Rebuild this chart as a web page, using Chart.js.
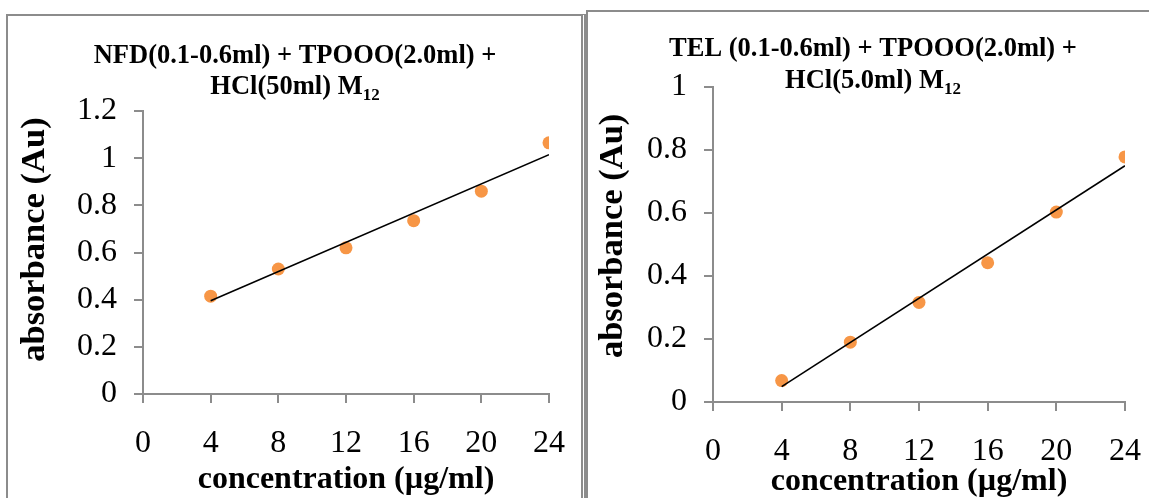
<!DOCTYPE html>
<html><head><meta charset="utf-8">
<script src="https://cdn.jsdelivr.net/npm/chart.js@4.4.1/dist/chart.umd.min.js"></script>
<style>
html,body{margin:0;padding:0;background:#fff;overflow:hidden;}
#wrap{position:relative;width:1149px;height:498px;overflow:hidden;}
.box{position:absolute;box-sizing:border-box;}
#boxL{left:6px;top:14px;width:580px;height:520px;border-left:2px solid #8c8c8c;border-top:2px solid #8c8c8c;border-right:5px double #8c8c8c;}
#boxR{left:586px;top:10px;width:600px;height:520px;border-left:2px solid #8c8c8c;border-top:2px solid #8c8c8c;}
canvas{position:absolute;top:0;}
#cL{left:0}
#cR{left:586px}
</style></head>
<body><div id="wrap">
<div class="box" id="boxL"></div><div class="box" id="boxR"></div>
<canvas id="cL" width="600" height="498"></canvas>
<canvas id="cR" width="585" height="498"></canvas>
</div>
<script>
// ---- data ----
const concentrations = [4, 8, 12, 16, 20, 24];
const absorbanceNFD = [0.415, 0.53, 0.62, 0.735, 0.86, 1.065];
const absorbanceTEL = [0.068, 0.19, 0.316, 0.442, 0.603, 0.778];
const trendX = [4, 24];
const trendNFD = [0.395, 1.015];
const trendTEL = [0.049, 0.750];
const xTickValues = [0, 4, 8, 12, 16, 20, 24];
const yTicksNFD = [0, 0.2, 0.4, 0.6, 0.8, 1, 1.2];
const yTicksTEL = [0, 0.2, 0.4, 0.6, 0.8, 1];
const titleNFD = ["NFD(0.1-0.6ml) + TPOOO(2.0ml) +", "HCl(50ml) M", "12"];
const titleTEL = ["TEL (0.1-0.6ml) + TPOOO(2.0ml) +", "HCl(5.0ml) M", "12"];
const xAxisTitle = "concentration (\u00b5g/ml)";
const yAxisTitle = "absorbance (Au)";

const FONT = '"Liberation Serif", "Times New Roman", serif';
const AXIS_GRAY = '#8c8c8c';

const titlePlugin = {
  id: 'splitTitle',
  afterDraw(chart, args, o) {
    const ctx = chart.ctx;
    ctx.save();
    ctx.fillStyle = '#000';
    ctx.textBaseline = 'alphabetic';
    ctx.textAlign = 'left';
    const main = `bold ${o.size}px ${FONT}`;
    const sub = `bold ${o.subSize}px ${FONT}`;
    ctx.font = main;
    const w1 = ctx.measureText(o.lines[0]).width;
    ctx.fillText(o.lines[0], o.cx - w1 / 2, o.y1);
    const w2 = ctx.measureText(o.lines[1]).width;
    ctx.font = sub;
    const w3 = ctx.measureText(o.lines[2]).width;
    const start = o.cx - (w2 + w3) / 2;
    ctx.font = main;
    ctx.fillText(o.lines[1], start, o.y2);
    ctx.font = sub;
    ctx.fillText(o.lines[2], start + w2, o.y2 + o.subDrop);
    ctx.restore();
  }
};

function makeChart(id, yVals, trendY, yTicks, yMax, title, geo) {
  const points = concentrations.map((c, i) => ({x: c, y: yVals[i]}));
  const trend = trendX.map((c, i) => ({x: c, y: trendY[i]}));
  return new Chart(document.getElementById(id), {
    type: 'scatter',
    data: {
      datasets: [
        {data: trend, showLine: true, borderColor: '#000', borderWidth: 1.6,
         pointRadius: 0, fill: false, order: 0},
        {data: points, backgroundColor: '#F79646', borderWidth: 0,
         pointRadius: 6.5, order: 1}
      ]
    },
    options: {
      responsive: false, animation: false, events: [],
      layout: {padding: {top: geo.top, right: geo.right, bottom: 0, left: 0}},
      plugins: {legend: {display: false}, tooltip: {enabled: false},
        splitTitle: {lines: title, size: 26.5, subSize: 17, subDrop: 6,
          cx: geo.cx, y1: geo.y1, y2: geo.y2}},
      scales: {
        x: {
          type: 'linear', min: 0, max: 24,
          afterBuildTicks: s => { s.ticks = xTickValues.map(v => ({value: v})); },
          afterFit: s => { s.height = geo.xh; },
          grid: {display: true, drawOnChartArea: false, drawTicks: true, tickLength: 9,
                 color: AXIS_GRAY, lineWidth: 2},
          border: {display: true, color: AXIS_GRAY, width: 2},
          ticks: {color: '#000', font: {family: FONT, size: 32}, padding: 21, maxRotation: 0,
                  callback: v => String(v)},
          title: {display: true, text: xAxisTitle, color: '#000',
                  font: {family: FONT, size: 32, weight: 'bold', lineHeight: 1},
                  padding: {top: 0, bottom: geo.xtPad}}
        },
        y: {
          type: 'linear', min: 0, max: yMax,
          afterBuildTicks: s => { s.ticks = yTicks.map(v => ({value: v})); },
          afterFit: s => { s.width = geo.yw; },
          grid: {display: true, drawOnChartArea: false, drawTicks: true, tickLength: 9,
                 color: AXIS_GRAY, lineWidth: 2},
          border: {display: true, color: AXIS_GRAY, width: 2},
          ticks: {color: '#000', font: {family: FONT, size: 32}, padding: 17,
                  callback: v => String(Math.round(v * 10) / 10)},
          title: {display: true, text: '\u00a0'.repeat(geo.lead) + yAxisTitle, color: '#000',
                  font: {family: FONT, size: 34.5, weight: 'bold', lineHeight: 1},
                  padding: {top: geo.ytPad, bottom: 0}}
        }
      }
    },
    plugins: [titlePlugin]
  });
}

makeChart('cL', absorbanceNFD, trendNFD, yTicksNFD, 1.2, titleNFD,
  {top: 111, right: 51, xh: 104, yw: 143, xtPad: 2, ytPad: 18, lead: 3, cx: 295, y1: 63, y2: 94});
makeChart('cR', absorbanceTEL, trendTEL, yTicksTEL, 1, titleTEL,
  {top: 87, right: 46, xh: 96, yw: 127, xtPad: 0, ytPad: 10, lead: 2, cx: 287, y1: 56, y2: 88});
</script>
</body></html>
